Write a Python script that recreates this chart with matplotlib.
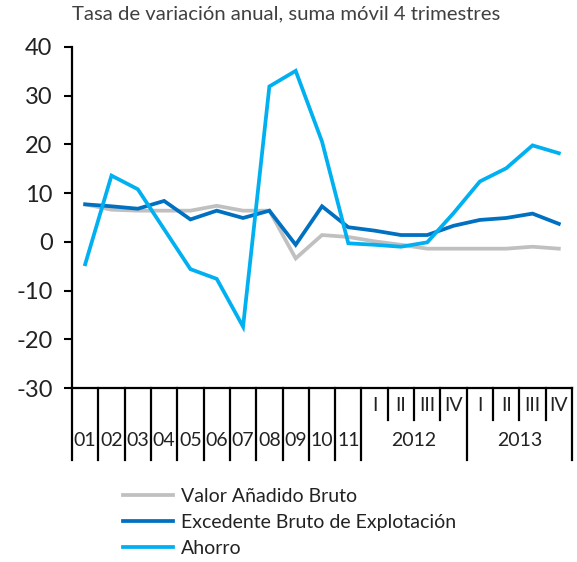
import matplotlib
matplotlib.use("Agg")
import matplotlib.pyplot as plt
import matplotlib.transforms as mtransforms

plt.rcParams['font.family'] = ['Lato', 'DejaVu Sans']
plt.rcParams['axes.unicode_minus'] = False

categories = ['01', '02', '03', '04', '05', '06', '07', '08', '09', '10', '11',
              'I', 'II', 'III', 'IV', 'I', 'II', 'III', 'IV']
year_labels = ['01', '02', '03', '04', '05', '06', '07', '08', '09', '10', '11']
quarter_years = ['2012', '2013']
quarters = ['I', 'II', 'III', 'IV']

vab = [7.7, 6.6, 6.4, 6.4, 6.4, 7.4, 6.4, 6.4, -3.4, 1.4, 1.0,
       0.1, -0.6, -1.4, -1.4, -1.4, -1.4, -1.0, -1.4]
ebe = [7.7, 7.3, 6.8, 8.4, 4.6, 6.4, 4.9, 6.4, -0.6, 7.3, 3.0,
       2.3, 1.4, 1.4, 3.3, 4.5, 4.9, 5.8, 3.7]
ahorro = [-4.6, 13.6, 10.8, 2.6, -5.6, -7.6, -17.4, 31.9, 35.1, 20.6, -0.3,
          -0.6, -1.0, -0.1, 5.9, 12.4, 15.1, 19.8, 18.2]

series_names = ['Valor Añadido Bruto', 'Excedente Bruto de Explotación', 'Ahorro']
colors = ['#C0C0C0', '#0070C0', '#00B0F0']

fig = plt.figure(figsize=(5.77, 5.62), dpi=100)
ax = fig.add_axes([0.1248, 0.3096, 0.8665, 0.6068])

x = list(range(len(categories)))
for vals, name, c in zip([vab, ebe, ahorro], series_names, colors):
    ax.plot(x, vals, color=c, lw=2.7, label=name, solid_joinstyle='miter')

ax.set_xlim(-0.5, len(categories) - 0.5)
ax.set_ylim(-30, 40)
ax.set_yticks(range(-30, 41, 10))
ax.tick_params(axis='y', labelsize=17, length=6, width=1.5, direction='out', pad=8,
               labelcolor='#222222')
ax.set_xticks([])
for s in ['top', 'right']:
    ax.spines[s].set_visible(False)
for s in ['left', 'bottom']:
    ax.spines[s].set_linewidth(1.6)

trans = mtransforms.blended_transform_factory(ax.transData, ax.transAxes)
long_y = -0.211
short_y = -0.094
n_years = len(year_labels)
long_pos = [i - 0.5 for i in range(n_years + 1)] + [n_years + 3.5, n_years + 7.5]
short_pos = [n_years + 0.5, n_years + 1.5, n_years + 2.5,
             n_years + 4.5, n_years + 5.5, n_years + 6.5]
for p in long_pos:
    ax.plot([p, p], [0, long_y], transform=trans, color='black', lw=1.6, clip_on=False)
for p in short_pos:
    ax.plot([p, p], [0, short_y], transform=trans, color='black', lw=1.6, clip_on=False)

for i, lab in enumerate(year_labels):
    ax.text(i, -0.155, lab, transform=trans, ha='center', va='center', fontsize=14,
            color='#222222')
for j, yr in enumerate(quarter_years):
    base = n_years + 4 * j
    for k, q in enumerate(quarters):
        ax.text(base + k, -0.05, q, transform=trans, ha='center', va='center', fontsize=14,
                color='#222222')
    ax.text(base + 1.5, -0.155, yr, transform=trans, ha='center', va='center', fontsize=14,
            color='#222222')

fig.text(0.1248, 0.975, 'Tasa de variación anual, suma móvil 4 trimestres',
         ha='left', va='center', fontsize=14.6, color='#404040')

leg = fig.legend(loc='upper left', bbox_to_anchor=(0.214, 0.132), frameon=False,
                 fontsize=14, handlelength=2.57, handletextpad=0.4, labelspacing=0.47,
                 borderaxespad=0, borderpad=0)
for t in leg.get_texts():
    t.set_color('#222222')

fig.savefig('out.png', dpi=100)
